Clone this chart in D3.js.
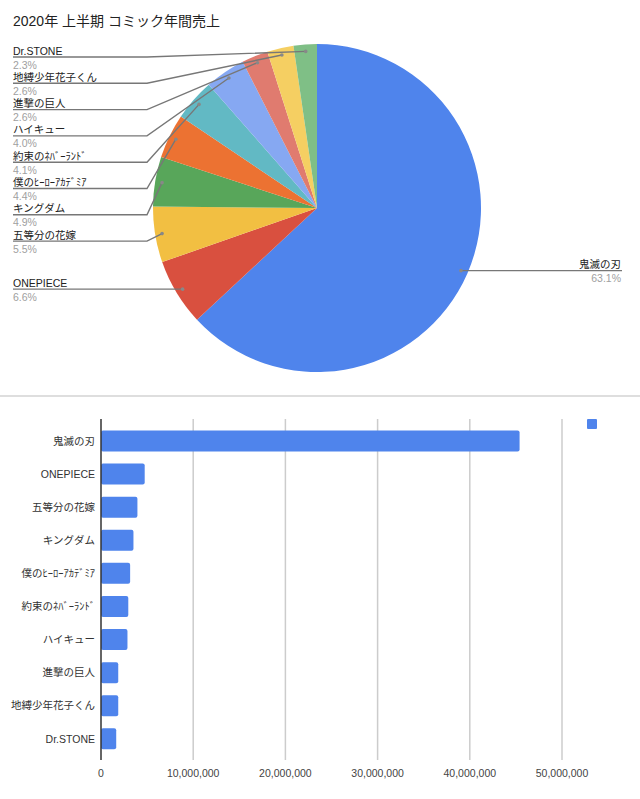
<!DOCTYPE html>
<html>
<head>
<meta charset="utf-8">
<script src="https://cdn.jsdelivr.net/npm/d3@7"></script>
<style>
  body { margin: 0; background: #fff; }
  svg { display: block; font-family: "Liberation Sans", Arial, "Noto Sans CJK JP", sans-serif; }
</style>
</head>
<body>
<div id="chart"></div>
<script>
//chart data (sales, pie uses the same numbers)
var titles = ["鬼滅の刃", "ONEPIECE", "五等分の花嫁", "キングダム", "僕のﾋｰﾛｰｱｶﾃﾞﾐｱ",
  "約束のﾈﾊﾞｰﾗﾝﾄﾞ", "ハイキュー", "進撃の巨人", "地縛少年花子くん", "Dr.STONE"];
var sales = [45400000, 4740000, 3950000, 3520000, 3160000, 2960000, 2870000, 1870000, 1870000, 1650000];
var sliceColors = ["#4f84ec", "#d9503f", "#f2bf42", "#58a65a", "#ec7232",
  "#62b9c4", "#86a8f2", "#e07b6f", "#f5cf62", "#7fbf86"];
var xTicks = [0, 10000000, 20000000, 30000000, 40000000, 50000000];
var chartTitle = "2020年 上半期 コミック年間売上";

var W = 640, H = 799;

var svg = d3.select("#chart").append("svg")
    .attr("width", W)
    .attr("height", H);

svg.append("rect").attr("width", W).attr("height", H).attr("fill", "#fff");

//---------- pie ----------
var cx = 317, cy = 208, radius = 164, dotR = 157;

svg.append("text")
  .attr("x", 13)
  .attr("y", 26)
  .attr("font-size", 14)
  .attr("fill", "#222")
  .text(chartTitle);

var rows = titles.map(function(t, i) { return {name: t, value: sales[i], color: sliceColors[i]}; });
var total = d3.sum(sales);

var pie = d3.pie()
  .value(function(d) { return d.value; })
  .sort(null);

var arcs = pie(rows);

var arc = d3.arc().innerRadius(0).outerRadius(radius);

var pg = svg.append("g")
  .attr("transform", "translate(" + cx + "," + cy + ")");

pg.selectAll("path")
  .data(arcs)
  .enter()
    .append("path")
      .attr("d", arc)
      .attr("fill", function(d) { return d.data.color; });

//label anchor dots sit just inside the rim
arcs.forEach(function(d) {
  var a = (d.startAngle + d.endAngle) / 2;
  d.dx = cx + Math.sin(a) * dotR;
  d.dy = cy - Math.cos(a) * dotR;
  d.left = a > Math.PI;
});

//left labels: stack top-down so they don't overlap
var leftLabels = arcs.filter(function(d) { return d.left; })
  .sort(function(a, b) { return a.dy - b.dy; });
var prev = -Infinity;
leftLabels.forEach(function(d) {
  d.ly = Math.max(d.dy, prev + 26.3, 57);
  prev = d.ly;
});
arcs.filter(function(d) { return !d.left; }).forEach(function(d) { d.ly = d.dy; });

var fmtPct = function(d) { return (d.value / total * 100).toFixed(1) + "%"; };

var labels = svg.append("g").selectAll("g")
  .data(arcs)
  .enter()
    .append("g");

labels.append("path")
  .attr("fill", "none")
  .attr("stroke", "#777")
  .attr("stroke-width", 1.4)
  .attr("d", function(d) {
    if (d.left) return "M13," + d.ly + "H147L" + d.dx + "," + d.dy;
    return "M" + d.dx + "," + d.dy + "L" + d.dx + "," + d.ly + "H622";
  });

labels.append("circle")
  .attr("cx", function(d) { return d.dx; })
  .attr("cy", function(d) { return d.dy; })
  .attr("r", 1.8)
  .attr("fill", "#888");

labels.append("text")
  .attr("x", function(d) { return d.left ? 13 : 621; })
  .attr("y", function(d) { return d.ly - 2.5; })
  .attr("text-anchor", function(d) { return d.left ? "start" : "end"; })
  .attr("font-size", 10.5)
  .attr("fill", "#222")
  .text(function(d) { return d.data.name; });

labels.append("text")
  .attr("x", function(d) { return d.left ? 13 : 621; })
  .attr("y", function(d) { return d.ly + 11.5; })
  .attr("text-anchor", function(d) { return d.left ? "start" : "end"; })
  .attr("font-size", 10.5)
  .attr("fill", "#a0a0a0")
  .text(fmtPct);

//separator between the two charts
svg.append("line")
  .attr("x1", 0).attr("x2", W)
  .attr("y1", 396).attr("y2", 396)
  .attr("stroke", "#dedede")
  .attr("stroke-width", 2);

//---------- bar ----------
var bx = d3.scaleLinear()
  .domain([0, 50000000])
  .range([101, 562]);

var by = d3.scaleBand()
  .domain(titles)
  .range([424.5, 755.3])
  .paddingInner(0.365)
  .paddingOuter(0.18);

var gridTop = 419, gridBottom = 760;

var bg = svg.append("g");

//gridlines
bg.selectAll("line.grid")
  .data(xTicks.slice(1))
  .enter()
    .append("line")
      .attr("class", "grid")
      .attr("x1", function(d) { return bx(d); })
      .attr("x2", function(d) { return bx(d); })
      .attr("y1", gridTop)
      .attr("y2", gridBottom)
      .attr("stroke", "#cccccc")
      .attr("stroke-width", 1.5);

bg.selectAll("rect.bar")
  .data(titles)
  .enter()
    .append("rect")
      .attr("class", "bar")
      .attr("x", bx(0))
      .attr("y", function(d) { return by(d); })
      .attr("width", function(d, i) { return bx(sales[i]) - bx(0); })
      .attr("height", by.bandwidth())
      .attr("rx", 2)
      .attr("fill", "#4f84ec");

//zero axis
bg.append("line")
  .attr("x1", bx(0)).attr("x2", bx(0))
  .attr("y1", gridTop).attr("y2", gridBottom)
  .attr("stroke", "#333")
  .attr("stroke-width", 1.5);

//category labels
bg.selectAll("text.cat")
  .data(titles)
  .enter()
    .append("text")
      .attr("class", "cat")
      .attr("x", 95)
      .attr("y", function(d) { return by(d) + by.bandwidth() / 2; })
      .attr("dy", "0.35em")
      .attr("text-anchor", "end")
      .attr("font-size", 10.5)
      .attr("fill", "#333")
      .text(function(d) { return d; });

//x tick labels
bg.selectAll("text.tick")
  .data(xTicks)
  .enter()
    .append("text")
      .attr("class", "tick")
      .attr("x", function(d) { return bx(d); })
      .attr("y", 777)
      .attr("text-anchor", "middle")
      .attr("font-size", 10.5)
      .attr("fill", "#444")
      .text(d3.format(","));

//legend swatch (no label in the original)
bg.append("rect")
  .attr("x", 587)
  .attr("y", 419)
  .attr("width", 10)
  .attr("height", 10)
  .attr("rx", 1)
  .attr("fill", "#4f84ec");
</script>
</body>
</html>
